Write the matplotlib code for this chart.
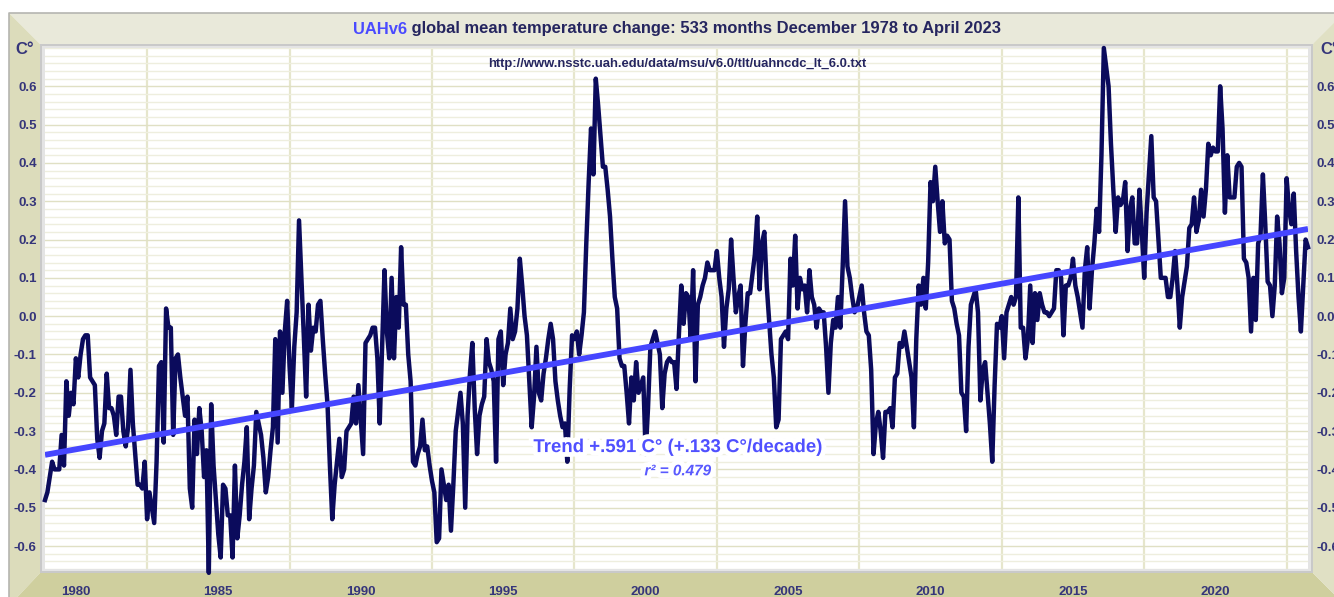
import numpy as np
import matplotlib
matplotlib.use("Agg")
import matplotlib.pyplot as plt
from matplotlib.patches import Polygon, Rectangle
from matplotlib.lines import Line2D
from matplotlib.offsetbox import TextArea, HPacker, AnnotationBbox
from matplotlib.ticker import FixedLocator, MultipleLocator, FormatStrFormatter
import matplotlib.patheffects as pe

# monthly global TLT anomalies (C), Dec 1978 .. Apr 2023
anom_1978 = [-0.48]
anom_1979 = [-0.46, -0.42, -0.38, -0.40, -0.40, -0.40, -0.31, -0.39, -0.17, -0.26, -0.20, -0.23]
anom_1980 = [-0.11, -0.16, -0.10, -0.06, -0.05, -0.05, -0.16, -0.17, -0.18, -0.32, -0.37, -0.30]
anom_1981 = [-0.28, -0.15, -0.24, -0.24, -0.26, -0.31, -0.21, -0.21, -0.30, -0.34, -0.29, -0.14]
anom_1982 = [-0.28, -0.36, -0.44, -0.44, -0.45, -0.38, -0.53, -0.46, -0.50, -0.54, -0.38, -0.13]
anom_1983 = [-0.12, -0.33, 0.02, -0.03, -0.03, -0.31, -0.11, -0.10, -0.16, -0.21, -0.26, -0.21]
anom_1984 = [-0.45, -0.50, -0.27, -0.36, -0.24, -0.30, -0.42, -0.35, -0.67, -0.23, -0.39, -0.48]
anom_1985 = [-0.57, -0.63, -0.44, -0.45, -0.52, -0.52, -0.63, -0.39, -0.58, -0.52, -0.44, -0.38]
anom_1986 = [-0.29, -0.53, -0.45, -0.39, -0.25, -0.28, -0.31, -0.37, -0.46, -0.42, -0.35, -0.29]
anom_1987 = [-0.06, -0.33, -0.04, -0.20, -0.04, 0.04, -0.13, -0.24, -0.08, 0.01, 0.25, 0.10]
anom_1988 = [-0.05, -0.21, 0.03, -0.09, -0.03, -0.04, 0.03, 0.04, -0.06, -0.15, -0.23, -0.39]
anom_1989 = [-0.53, -0.44, -0.38, -0.32, -0.42, -0.40, -0.30, -0.29, -0.28, -0.21, -0.28, -0.18]
anom_1990 = [-0.27, -0.36, -0.07, -0.06, -0.05, -0.03, -0.03, -0.11, -0.28, -0.08, 0.12, -0.04]
anom_1991 = [-0.11, 0.10, -0.11, 0.05, -0.03, 0.18, 0.03, 0.03, -0.10, -0.17, -0.38, -0.39]
anom_1992 = [-0.36, -0.34, -0.27, -0.35, -0.34, -0.39, -0.43, -0.46, -0.59, -0.58, -0.40, -0.44]
anom_1993 = [-0.48, -0.44, -0.56, -0.44, -0.30, -0.25, -0.20, -0.28, -0.50, -0.26, -0.15, -0.07]
anom_1994 = [-0.24, -0.36, -0.26, -0.23, -0.21, -0.06, -0.12, -0.14, -0.17, -0.38, -0.06, -0.04]
anom_1995 = [-0.18, -0.10, -0.07, 0.02, -0.06, -0.04, 0.02, 0.15, 0.08, 0.00, -0.05, -0.17]
anom_1996 = [-0.29, -0.21, -0.08, -0.20, -0.22, -0.15, -0.11, -0.06, -0.02, -0.06, -0.17, -0.22]
anom_1997 = [-0.26, -0.29, -0.28, -0.38, -0.19, -0.05, -0.06, -0.04, -0.10, -0.05, 0.01, 0.19]
anom_1998 = [0.35, 0.49, 0.37, 0.62, 0.55, 0.47, 0.39, 0.39, 0.33, 0.26, 0.15, 0.05]
anom_1999 = [0.02, -0.11, -0.13, -0.13, -0.20, -0.28, -0.16, -0.22, -0.12, -0.20, -0.18, -0.16]
anom_2000 = [-0.36, -0.24, -0.08, -0.06, -0.04, -0.07, -0.10, -0.24, -0.15, -0.12, -0.11, -0.12]
anom_2001 = [-0.12, -0.19, -0.05, 0.08, -0.02, 0.06, 0.05, -0.06, 0.12, -0.17, 0.03, 0.05]
anom_2002 = [0.08, 0.10, 0.14, 0.12, 0.12, 0.12, 0.17, 0.10, 0.05, -0.08, 0.02, 0.07]
anom_2003 = [0.20, 0.10, 0.01, 0.05, 0.08, -0.13, -0.02, 0.06, 0.06, 0.11, 0.16, 0.26]
anom_2004 = [0.07, 0.19, 0.22, 0.08, -0.01, -0.10, -0.16, -0.29, -0.27, -0.06, -0.05, -0.04]
anom_2005 = [-0.06, 0.15, 0.08, 0.21, 0.02, 0.10, 0.07, 0.08, 0.01, 0.12, 0.05, 0.03]
anom_2006 = [-0.03, 0.02, 0.01, 0.01, -0.08, -0.20, -0.07, -0.01, -0.03, 0.05, -0.03, 0.13]
anom_2007 = [0.30, 0.13, 0.10, 0.05, 0.01, 0.02, 0.05, 0.08, 0.01, -0.04, -0.05, -0.14]
anom_2008 = [-0.36, -0.28, -0.25, -0.30, -0.37, -0.25, -0.25, -0.24, -0.29, -0.16, -0.15, -0.07]
anom_2009 = [-0.08, -0.04, -0.08, -0.12, -0.16, -0.29, -0.06, 0.08, 0.03, 0.10, 0.02, 0.14]
anom_2010 = [0.35, 0.30, 0.39, 0.30, 0.22, 0.30, 0.19, 0.21, 0.20, 0.04, 0.02, -0.02]
anom_2011 = [-0.05, -0.20, -0.21, -0.30, -0.08, 0.03, 0.05, 0.07, 0.01, -0.22, -0.14, -0.12]
anom_2012 = [-0.20, -0.28, -0.38, -0.18, -0.02, -0.03, 0.00, -0.11, 0.01, 0.03, 0.05, 0.03]
anom_2013 = [0.05, 0.31, -0.03, -0.03, -0.11, -0.06, 0.08, -0.07, 0.06, -0.01, 0.06, 0.03]
anom_2014 = [0.01, 0.01, 0.00, 0.01, 0.02, 0.12, 0.12, 0.10, -0.05, 0.08, 0.08, 0.10]
anom_2015 = [0.15, 0.08, 0.05, 0.01, -0.03, 0.12, 0.18, 0.02, 0.12, 0.19, 0.28, 0.22]
anom_2016 = [0.42, 0.70, 0.65, 0.60, 0.45, 0.33, 0.22, 0.31, 0.29, 0.30, 0.35, 0.17]
anom_2017 = [0.28, 0.31, 0.19, 0.19, 0.33, 0.22, 0.10, 0.27, 0.37, 0.47, 0.31, 0.30]
anom_2018 = [0.20, 0.10, 0.10, 0.10, 0.05, 0.05, 0.10, 0.17, 0.08, -0.03, 0.05, 0.09]
anom_2019 = [0.13, 0.23, 0.24, 0.31, 0.22, 0.25, 0.33, 0.26, 0.33, 0.45, 0.42, 0.44]
anom_2020 = [0.43, 0.43, 0.60, 0.49, 0.27, 0.42, 0.31, 0.31, 0.31, 0.39, 0.40, 0.39]
anom_2021 = [0.15, 0.14, 0.10, -0.04, 0.10, -0.01, 0.19, 0.21, 0.37, 0.24, 0.09, 0.08]
anom_2022 = [0.00, 0.08, 0.26, 0.19, 0.06, 0.10, 0.36, 0.28, 0.24, 0.32, 0.17, 0.05]
anom_2023 = [-0.04, 0.08, 0.20, 0.18]

yearly = [anom_1978, anom_1979, anom_1980, anom_1981, anom_1982, anom_1983, anom_1984,
          anom_1985, anom_1986, anom_1987, anom_1988, anom_1989, anom_1990, anom_1991,
          anom_1992, anom_1993, anom_1994, anom_1995, anom_1996, anom_1997, anom_1998,
          anom_1999, anom_2000, anom_2001, anom_2002, anom_2003, anom_2004, anom_2005,
          anom_2006, anom_2007, anom_2008, anom_2009, anom_2010, anom_2011, anom_2012,
          anom_2013, anom_2014, anom_2015, anom_2016, anom_2017, anom_2018, anom_2019,
          anom_2020, anom_2021, anom_2022, anom_2023]
anom = np.concatenate([np.array(a) for a in yearly])

# linear trend as stated on the chart
trend_start = -0.362      # C at Dec 1978
trend_per_decade = 0.133  # C per decade
r_squared = 0.479

year_ticks = [1980, 1985, 1990, 1995, 2000, 2005, 2010, 2015, 2020]
y_ticks = [-0.6, -0.5, -0.4, -0.3, -0.2, -0.1, 0.0, 0.1, 0.2, 0.3, 0.4, 0.5, 0.6]

NAVY = "#0b0b5c"
TREND_BLUE = "#4646ff"
LABEL = "#35357a"
FONT = "Liberation Sans"

W, H = 1334, 597
fig = plt.figure(figsize=(W / 100, H / 100), dpi=100, facecolor="white")


def fx(px):
    return px / W


def fy(py):
    return 1 - py / H


def band(pts, color, z=-3):
    fig.patches.append(Polygon([(fx(x), fy(y)) for x, y in pts], closed=True,
                               transform=fig.transFigure, facecolor=color,
                               edgecolor="none", zorder=z))


# bevelled frame around the plot
L, T, R, B = 9, 13, 1346, 606
il, it, ir, ib = 40, 44, 1313, 573
band([(L, T), (R + 30, T), (ir, it), (il, it)], "#e9e9da")
band([(L, T), (il, it), (il, ib), (L, B)], "#dcdcbb")
band([(il, ib), (ir, ib), (R, B), (L, B)], "#cfcf9e")
band([(ir, it), (R, it - (R - ir)), (R, B), (ir, ib)], "#e0e0c4")
fig.lines.append(Line2D([fx(L), fx(L), fx(W)], [fy(B), fy(T), fy(T)],
                        transform=fig.transFigure, color="#b5b5b0", lw=1.2, zorder=-2))
fig.patches.append(Rectangle((fx(il), fy(ib)), fx(ir) - fx(il), fy(it) - fy(ib),
                             transform=fig.transFigure, facecolor="#c9c9c9",
                             edgecolor="none", zorder=-2))
fig.patches.append(Rectangle((fx(il + 2), fy(ib - 2)), fx(ir - 2) - fx(il + 2),
                             fy(it + 2) - fy(ib - 2), transform=fig.transFigure,
                             facecolor="#e4e4e4", edgecolor="none", zorder=-1))

ax = fig.add_axes([fx(45), fy(569), fx(1308) - fx(45), fy(48) - fy(569)])
ax.set_facecolor("white")

t = 1978 + 11 / 12 + np.arange(len(anom)) / 12
ax.set_xlim(t[0], t[-1])
ax.set_ylim(-0.66, 0.70)

# grid
ax.yaxis.set_minor_locator(MultipleLocator(0.02))
ax.xaxis.set_minor_locator(MultipleLocator(2.5))
ax.yaxis.set_major_locator(FixedLocator(y_ticks))
ax.xaxis.set_major_locator(FixedLocator(year_ticks))
ax.yaxis.set_major_formatter(FormatStrFormatter("%.1f"))
ax.grid(which="minor", axis="y", color="#eeeede", lw=1.0)
ax.grid(which="major", axis="y", color="#e0e0c4", lw=1.0)
ax.grid(which="minor", axis="x", color="#e6e6cc", lw=1.6)
ax.set_axisbelow(True)
for s in ax.spines.values():
    s.set_visible(False)

ax.tick_params(which="both", length=0)
ax.tick_params(axis="y", labelleft=True, labelright=True, pad=6)
ax.tick_params(axis="x", pad=12)
for lab in ax.get_xticklabels() + ax.get_yticklabels():
    lab.set_fontfamily(FONT)
    lab.set_fontweight("bold")
    lab.set_fontsize(9.5)
    lab.set_color(LABEL)

# series and trend
ax.plot(t, anom, color=NAVY, lw=3.2, solid_joinstyle="round", zorder=3, clip_on=False)
span_decades = (t[-1] - t[0]) / 10
ax.plot([t[0], t[-1]], [trend_start, trend_start + trend_per_decade * span_decades],
        color=TREND_BLUE, lw=4.2, solid_capstyle="butt", zorder=4)

total = trend_per_decade * len(anom) / 120
halo = [pe.withStroke(linewidth=7, foreground="white")]
trend_label = f"Trend +{total:.3f} C\u00b0 (+{trend_per_decade:.3f} C\u00b0/decade)".replace("+0.", "+.")
ax.text(0.501, -0.343, trend_label, transform=ax.get_yaxis_transform(), ha="center", va="center",
        fontsize=13.4, fontweight="bold", color="#5050ff", family=FONT,
        zorder=6, path_effects=halo)
ax.text(0.501, -0.405, f"r\u00b2 = {r_squared:.3f}", transform=ax.get_yaxis_transform(),
        ha="center", va="center", fontsize=11, fontweight="bold", style="italic",
        color="#5a5aff", family=FONT, zorder=6, path_effects=halo)

# header texts
t1 = TextArea("UAHv6", textprops=dict(color="#4a4aff", fontsize=11.9, fontweight="bold", family=FONT))
t2 = TextArea(f" global mean temperature change: {len(anom)} months December 1978 to April 2023",
              textprops=dict(color="#25255f", fontsize=11.9, fontweight="bold", family=FONT))
title = HPacker(children=[t1, t2], align="baseline", pad=0, sep=0)
fig.add_artist(AnnotationBbox(title, (fx(677), fy(29)), xycoords="figure fraction",
                              frameon=False, box_alignment=(0.5, 0.5), zorder=5))
fig.text(fx(677), fy(64), "http://www.nsstc.uah.edu/data/msu/v6.0/tlt/uahncdc_lt_6.0.txt",
         ha="center", va="center", fontsize=9.4, fontweight="bold", color="#25255f",
         family=FONT, zorder=5)
fig.text(fx(15), fy(49), "C\u00b0", ha="left", va="center", fontsize=12, fontweight="bold",
         color=LABEL, family=FONT)
fig.text(fx(1320), fy(49), "C\u00b0", ha="left", va="center", fontsize=12, fontweight="bold",
         color=LABEL, family=FONT)

fig.savefig("out.png", dpi=100, facecolor="white")
